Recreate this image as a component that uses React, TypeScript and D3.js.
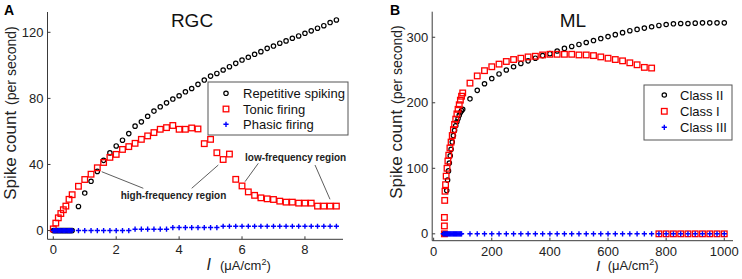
import React from "react";
import * as d3 from "d3";

// ---------- Panel A (RGC) data ----------
const repLowX = [0, 0.04, 0.08, 0.12, 0.16, 0.2, 0.24, 0.28, 0.32, 0.36, 0.4, 0.44, 0.48, 0.52, 0.56, 0.6];
const repLowY = [0, 0, 0, 0, 0, 0, 0, 0, 0, 0, 0, 0, 0, 0, 0, 0];
const repX = [0.8, 1.0, 1.2, 1.4, 1.6, 1.8, 2.0, 2.2, 2.4, 2.6, 2.8, 3.0, 3.2, 3.4, 3.6, 3.8, 4.0, 4.2, 4.4, 4.6, 4.8, 5.0, 5.2, 5.4, 5.6, 5.8, 6.0, 6.2, 6.4, 6.6, 6.8, 7.0, 7.2, 7.4, 7.6, 7.8, 8.0, 8.2, 8.4, 8.6, 8.8, 9.0];
const repY = [14.6, 22.7, 29.8, 35.8, 42.5, 47, 51.2, 54.7, 58.7, 63.2, 65.8, 69.2, 72.3, 74.9, 77.3, 79.6, 81.6, 84, 86, 88.5, 91.1, 93.5, 95.1, 97.2, 99.2, 101.2, 103.2, 104.9, 106.7, 108.3, 110.3, 111.7, 113.4, 114.8, 116.4, 117.8, 119.4, 120.9, 122.5, 124, 125.9, 127.5];

const tonicX = [0, 0.08, 0.16, 0.24, 0.32, 0.4, 0.5, 0.6, 0.8, 1.0, 1.2, 1.4, 1.6, 1.8, 2.0, 2.2, 2.4, 2.6, 2.8, 3.0, 3.2, 3.4, 3.6, 3.8, 4.0, 4.2, 4.4, 4.6, 4.8, 5.0, 5.2, 5.4, 5.6, 5.8, 6.0, 6.2, 6.4, 6.6, 6.8, 7.0, 7.2, 7.4, 7.6, 7.8, 8.0, 8.2, 8.4, 8.6, 8.8, 9.0];
const tonicY = [1, 4.5, 7.7, 10.3, 12.6, 14.8, 18.9, 21.7, 26.8, 30.9, 34.1, 38, 41.2, 44.3, 46.1, 49.1, 50.8, 52.8, 55.2, 57.3, 59.3, 61.3, 62.3, 63.6, 61.3, 61.3, 62.1, 61.5, 52.6, 55.2, 47.1, 43, 46.3, 31, 27, 23.4, 21.3, 19.8, 19.2, 18.8, 17.8, 17.2, 17.2, 16.6, 16.6, 16.6, 14.8, 14.8, 14.8, 14.8];

const phasicX = [0, 0.04, 0.08, 0.12, 0.16, 0.2, 0.24, 0.28, 0.32, 0.36, 0.4, 0.44, 0.48, 0.52, 0.56, 0.6, 0.8, 1.0, 1.2, 1.4, 1.6, 1.8, 2.0, 2.2, 2.4, 2.6, 2.8, 3.0, 3.2, 3.4, 3.6, 3.8, 4.0, 4.2, 4.4, 4.6, 4.8, 5.0, 5.2, 5.4, 5.6, 5.8, 6.0, 6.2, 6.4, 6.6, 6.8, 7.0, 7.2, 7.4, 7.6, 7.8, 8.0, 8.2, 8.4, 8.6, 8.8, 9.0];
const phasicY = [0, 0, 0, 0, 0, 0, 0, 0, 0, 0, 0, 0, 0, 0, 0, 0, 0, 0, 0, 0, 0, 0, 0, 0, 0, 0.8, 0.8, 0.8, 0.8, 0.8, 0.8, 1.8, 1.8, 1.8, 1.8, 1.8, 1.8, 1.8, 1.8, 2.6, 2.6, 2.6, 2.6, 2.6, 2.6, 2.6, 2.6, 2.6, 2.6, 2.6, 2.6, 2.6, 2.6, 2.6, 2.6, 2.6, 2.6, 2.6];

const aXTicks = [0, 2, 4, 6, 8];
const aYTicks = [0, 40, 80, 120];

// ---------- Panel B (ML) data ----------
const class2X = [37, 40, 43, 45, 48, 51, 54, 57, 60, 64, 68, 72, 76, 80, 84, 88, 92, 96, 100, 125, 150, 175, 200, 225, 250, 275, 300, 325, 350, 375, 400, 425, 450, 475, 500, 525, 550, 575, 600, 625, 650, 675, 700, 725, 750, 775, 800, 825, 850, 875, 900, 925, 950, 975, 1000];
const class2Y = [0, 0, 0, 66, 82, 96, 108, 119, 129, 140, 150, 158, 165, 171, 176, 181, 185, 188, 190, 206, 219, 229, 237, 244, 250, 255, 260, 264, 268, 272, 275, 279, 283, 286, 289, 292, 295, 298, 301, 304, 307, 310, 312, 314, 316, 318, 319.5, 320.5, 321, 321, 321.5, 322, 322, 322, 322];

const class1X = [37, 37, 37, 38, 39, 41, 43, 46, 49, 52, 56, 60, 64, 68, 72, 76, 80, 84, 88, 92, 96, 100, 125, 150, 175, 200, 225, 250, 275, 300, 325, 350, 375, 400, 425, 450, 475, 500, 525, 550, 575, 600, 625, 650, 675, 700, 725, 750, 775, 800, 825, 850, 875, 900, 925, 950, 975, 1000];
const class1Y = [0, 12, 25, 51, 65, 75, 88, 100, 111, 120, 131, 140, 150, 159, 167, 175, 183, 190, 197, 204, 210, 215, 230, 241, 249, 255, 259, 263, 266, 268, 270, 271, 273, 274, 274, 274, 274, 273, 273, 272, 270, 268, 266, 264, 261, 258, 254, 253, 0, 0, 0, 0, 0, 0, 0, 0, 0, 0];

const class3X = [33, 36, 39, 42, 45, 48, 51, 54, 57, 60, 63, 66, 69, 72, 75, 78, 81, 84, 87, 90, 93, 96, 125, 150, 175, 200, 225, 250, 275, 300, 325, 350, 375, 400, 425, 450, 475, 500, 525, 550, 575, 600, 625, 650, 675, 700, 725, 750, 775, 800, 825, 850, 875, 900, 925, 950, 975, 1000];
const class3Y = [0, 0, 0, 0, 0, 0, 0, 0, 0, 0, 0, 0, 0, 0, 0, 0, 0, 0, 0, 0, 0, 0, 0, 0, 0, 0, 0, 0, 0, 0, 0, 0, 0, 0, 0, 0, 0, 0, 0, 0, 0, 0, 0, 0, 0, 0, 0, 0, 0, 0, 0, 0, 0, 0, 0, 0, 0, 0];

const bXTicks = [0, 200, 400, 600, 800, 1000];
const bYTicks = [0, 100, 200, 300];

const FONT = "'Liberation Sans', Arial, sans-serif";
const AX = "#3a3a3a";

type Kind = "circle" | "square" | "plus";

function Marker({ kind, x, y }: { kind: Kind; x: number; y: number }) {
  if (kind === "circle")
    return <circle cx={x} cy={y} r={2.2} fill="none" stroke="#000" strokeWidth={1.2} />;
  if (kind === "square")
    return <rect x={x - 2.8} y={y - 2.8} width={5.6} height={5.6} fill="none" stroke="#ff0000" strokeWidth={1.3} />;
  return (
    <path d={`M${x - 2.6},${y}H${x + 2.6}M${x},${y - 2.6}V${y + 2.6}`} stroke="#0000ff" strokeWidth={1.4} />
  );
}

function Series({ xs, ys, sx, sy, kind }: { xs: number[]; ys: number[]; sx: any; sy: any; kind: Kind }) {
  return (
    <g>
      {xs.map((v, i) => (
        <Marker key={i} kind={kind} x={sx(v)} y={sy(ys[i])} />
      ))}
    </g>
  );
}

function Axes({ sx, sy, xt, yt }: { sx: any; sy: any; xt: number[]; yt: number[] }) {
  const [x0, x1] = sx.range();
  const [y0, y1] = sy.range();
  return (
    <g fontFamily={FONT} fontSize={13} fill="#222">
      <line x1={x0} x2={x1} y1={y0} y2={y0} stroke={AX} strokeWidth={1} />
      <line x1={x0} x2={x0} y1={y0} y2={y1} stroke={AX} strokeWidth={1} />
      {xt.map((t) => (
        <g key={"x" + t}>
          <line x1={sx(t)} x2={sx(t)} y1={y0} y2={y0 - 3} stroke={AX} />
          <text x={sx(t)} y={y0 + 15} textAnchor="middle">{t}</text>
        </g>
      ))}
      {yt.map((t) => (
        <g key={"y" + t}>
          <line x1={x0} x2={x0 + 3} y1={sy(t)} y2={sy(t)} stroke={AX} />
          <text x={x0 - 4} y={sy(t) + 4.5} textAnchor="end">{t}</text>
        </g>
      ))}
    </g>
  );
}

function Legend({ x, y, w, h, mx, tx, rows }: { x: number; y: number; w: number; h: number; mx: number; tx: number; rows: { k: Kind; label: string; y: number }[] }) {
  return (
    <g>
      <rect x={x} y={y} width={w} height={h} fill="#fff" stroke="#555" strokeWidth={1} />
      {rows.map((r) => (
        <g key={r.label}>
          <Marker kind={r.k} x={mx} y={r.y} />
          <text x={tx} y={r.y + 4.5} fontFamily={FONT} fontSize={13} fill="#111">{r.label}</text>
        </g>
      ))}
    </g>
  );
}

export default function App() {
  const ax = d3.scaleLinear().domain([-0.184, 9.21]).range([47.5, 343]);
  const ay = d3.scaleLinear().domain([-5.3, 132.3]).range([239.3, 12]);
  const bx = d3.scaleLinear().domain([-5, 1030]).range([432.2, 733]);
  const by = d3.scaleLinear().domain([-10.5, 339]).range([240.7, 11.7]);

  return (
    <svg width={742} height={279} style={{ position: "absolute", left: 0, top: 0, background: "#fff" }}>
      {/* Panel A */}
      <text x={4} y={15} fontFamily={FONT} fontSize={14} fontWeight="bold">A</text>
      <text x={192} y={26.7} fontFamily={FONT} fontSize={19} textAnchor="middle" fill="#111">RGC</text>
      <Axes sx={ax} sy={ay} xt={aXTicks} yt={aYTicks} />
      <Series xs={repLowX} ys={repLowY} sx={ax} sy={ay} kind="circle" />
      <Series xs={repX} ys={repY} sx={ax} sy={ay} kind="circle" />
      <Series xs={tonicX} ys={tonicY} sx={ax} sy={ay} kind="square" />
      <Series xs={phasicX} ys={phasicY} sx={ax} sy={ay} kind="plus" />
      <g stroke="#333" strokeWidth={0.8}>
        <line x1={101.7} y1={171.7} x2={143.3} y2={188.3} />
        <line x1={191.7} y1={188.3} x2={218.3} y2={165} />
        <line x1={258.3} y1={163.3} x2={245} y2={181.7} />
        <line x1={315} y1={165} x2={330} y2={199.3} />
      </g>
      <text x={120.7} y={199} fontFamily={FONT} fontSize={10} fontWeight="bold" fill="#222">high-frequency region</text>
      <text x={245} y={161} fontFamily={FONT} fontSize={10} fontWeight="bold" fill="#222">low-frequency region</text>
      <Legend x={208} y={82} w={140} h={53} mx={226} tx={243}
        rows={[{ k: "circle", label: "Repetitive spiking", y: 93.3 }, { k: "square", label: "Tonic firing", y: 109 }, { k: "plus", label: "Phasic firing", y: 124.3 }]} />
      <text transform="translate(15.5,113) rotate(-90)" textAnchor="middle" fontFamily={FONT} fill="#222">
        <tspan fontSize={17}>Spike count</tspan>
        <tspan fontSize={14} dx={6}>(per second)</tspan>
      </text>
      <text x={206.5} y={270} fontFamily={FONT} fontSize={16} fontStyle="italic" fill="#222">I</text>
      <text x={220} y={270} fontFamily={FONT} fontSize={13} fill="#222">
        <tspan>(μA/cm</tspan><tspan fontSize={9} dy={-5}>2</tspan><tspan dy={5}>)</tspan>
      </text>

      {/* Panel B */}
      <text x={390} y={15} fontFamily={FONT} fontSize={14} fontWeight="bold">B</text>
      <text x={573} y={26.7} fontFamily={FONT} fontSize={19} textAnchor="middle" fill="#111">ML</text>
      <Axes sx={bx} sy={by} xt={bXTicks} yt={bYTicks} />
      <Series xs={class2X} ys={class2Y} sx={bx} sy={by} kind="circle" />
      <Series xs={class1X} ys={class1Y} sx={bx} sy={by} kind="square" />
      <Series xs={class3X} ys={class3Y} sx={bx} sy={by} kind="plus" />
      <Legend x={644} y={85} w={88} h={55} mx={664.3} tx={680}
        rows={[{ k: "circle", label: "Class II", y: 95 }, { k: "square", label: "Class I", y: 111.3 }, { k: "plus", label: "Class III", y: 127.3 }]} />
      <text transform="translate(401.5,112) rotate(-90)" textAnchor="middle" fontFamily={FONT} fill="#222">
        <tspan fontSize={17}>Spike count</tspan>
        <tspan fontSize={14} dx={6}>(per second)</tspan>
      </text>
      <text x={596} y={271} fontFamily={FONT} fontSize={15} fontStyle="italic" fill="#222">I</text>
      <text x={607.7} y={270} fontFamily={FONT} fontSize={13} fill="#222">
        <tspan>(μA/cm</tspan><tspan fontSize={9} dy={-5}>2</tspan><tspan dy={5}>)</tspan>
      </text>
    </svg>
  );
}
